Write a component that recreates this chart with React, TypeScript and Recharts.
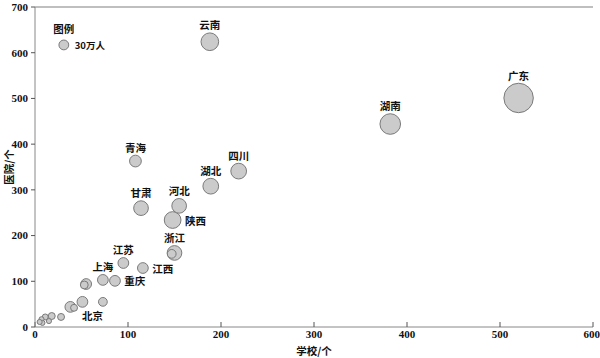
import { ScatterChart, Scatter, XAxis, YAxis, ZAxis, ReferenceLine } from 'recharts'

const PROVINCES = ['广东', '湖南', '云南', '陕西', '四川', '湖北', '河北', '甘肃', '浙江', '青海', '江苏', '江西', '上海', '重庆', '北京', '', '', '', '', '', '', '', '', '', '', '', '', '']
const SCHOOLS = [520, 382, 188, 148, 219, 189, 155, 114, 150, 108, 95, 116, 73, 86, 51, 55, 38, 73, 147, 53, 42, 28, 18, 11, 15, 7, 8, 5]
const HOSPITALS = [501, 444, 624, 234, 341, 308, 265, 260, 162, 363, 140, 129, 103, 101, 55, 94, 44, 55, 160, 92, 42, 22, 24, 22, 13, 17, 9, 11]
const POPULATION = [270, 132, 97, 87, 77, 77, 67, 67, 67, 43, 36, 36, 36, 36, 36, 36, 36, 24, 24, 19, 15, 15, 15, 11, 8, 8, 8, 8]

const X_TICKS = [0, 100, 200, 300, 400, 500, 600]
const Y_TICKS = [0, 100, 200, 300, 400, 500, 600, 700]

// legend bubble
const LEGEND_TITLE = '图例'
const LEGEND_TEXT = '30万人'
const LEGEND_POINT = { x: 31, y: 617, z: 30 }

const LABEL_SIDE: Record<string, 'top' | 'right' | 'bottom'> = {
  陕西: 'right',
  江西: 'right',
  重庆: 'right',
  北京: 'bottom',
}

const data = PROVINCES.map((name, i) => ({
  name,
  x: SCHOOLS[i],
  y: HOSPITALS[i],
  z: POPULATION[i],
}))

const LABEL_FONT = "'Noto Sans CJK SC', sans-serif"
const TICK_FONT = "'Liberation Serif', serif"
const FILL = '#cbcbcb'
const STROKE = '#7a7a7a'

function radiusOf(props: any): number {
  if (props.size) return Math.sqrt(props.size / Math.PI)
  return (props.width ?? 10) / 2
}

function Bubble(props: any) {
  const { cx, cy, payload } = props
  const r = radiusOf(props)
  const name: string = payload?.name ?? ''
  const side = LABEL_SIDE[name] ?? 'top'
  let label = null
  if (name) {
    const common = { fontFamily: LABEL_FONT, fontSize: 10.5, fontWeight: 700, fill: '#111', dominantBaseline: 'central' as const }
    if (side === 'top') {
      label = <text x={cx} y={cy - r - 8} textAnchor="middle" {...common}>{name}</text>
    } else if (side === 'right') {
      label = <text x={cx + r + 4} y={cy} textAnchor="start" {...common}>{name}</text>
    } else {
      label = <text x={cx + 10} y={cy + r + 8} textAnchor="middle" {...common}>{name}</text>
    }
  }
  return (
    <g>
      <circle cx={cx} cy={cy} r={r} fill={FILL} stroke={STROKE} strokeWidth={1} />
      {label}
    </g>
  )
}

function LegendBubble(props: any) {
  const { cx, cy } = props
  const r = radiusOf(props)
  const common = { fontFamily: LABEL_FONT, fontSize: 10.5, fontWeight: 700, fill: '#111', dominantBaseline: 'central' as const }
  return (
    <g>
      <circle cx={cx} cy={cy} r={r} fill={FILL} stroke={STROKE} strokeWidth={1} />
      <text x={cx} y={cy - r - 12} textAnchor="middle" {...common}>{LEGEND_TITLE}</text>
      <text x={cx + r + 6} y={cy} textAnchor="start" {...common} fontSize={9.5}>{LEGEND_TEXT}</text>
    </g>
  )
}

export default function App() {
  const tick = { fontFamily: TICK_FONT, fontSize: 11, fontWeight: 700, fill: '#111' }
  return (
    <div style={{ position: 'fixed', left: 0, top: 0, background: '#fff' }}>
      <ScatterChart width={600} height={358} margin={{ top: 7, right: 7, bottom: 0, left: 0 }}>
        <XAxis
          type="number"
          dataKey="x"
          domain={[0, 600]}
          ticks={X_TICKS}
          height={31}
          tick={tick}
          tickSize={-5}
          tickMargin={8}
          axisLine={{ stroke: '#888' }}
          tickLine={{ stroke: '#555' }}
          label={{ value: '学校/个', position: 'insideBottom', offset: 3, fontFamily: LABEL_FONT, fontSize: 10.5, fontWeight: 700, fill: '#111' }}
        />
        <YAxis
          type="number"
          dataKey="y"
          domain={[0, 700]}
          ticks={Y_TICKS}
          width={35}
          tick={tick}
          tickSize={4}
          tickMargin={3}
          axisLine={{ stroke: '#888' }}
          tickLine={{ stroke: '#555' }}
          label={{
            content: (p: any) => {
              const vb = p.viewBox
              const cy = vb.y + vb.height / 2
              return (
                <text x={8} y={cy} transform={`rotate(-90, 8, ${cy})`} textAnchor="middle" dominantBaseline="central" fontFamily={LABEL_FONT} fontSize={10.5} fontWeight={700} fill="#111">
                  医院/个
                </text>
              )
            },
          }}
        />
        <ZAxis type="number" dataKey="z" domain={[0, 300]} range={[0, 1766]} />
        <ReferenceLine y={700} stroke="#aaa" strokeWidth={1.5} ifOverflow="extendDomain" />
        <Scatter data={[LEGEND_POINT]} shape={LegendBubble} isAnimationActive={false} />
        <Scatter data={data} shape={Bubble} isAnimationActive={false} />
      </ScatterChart>
    </div>
  )
}
